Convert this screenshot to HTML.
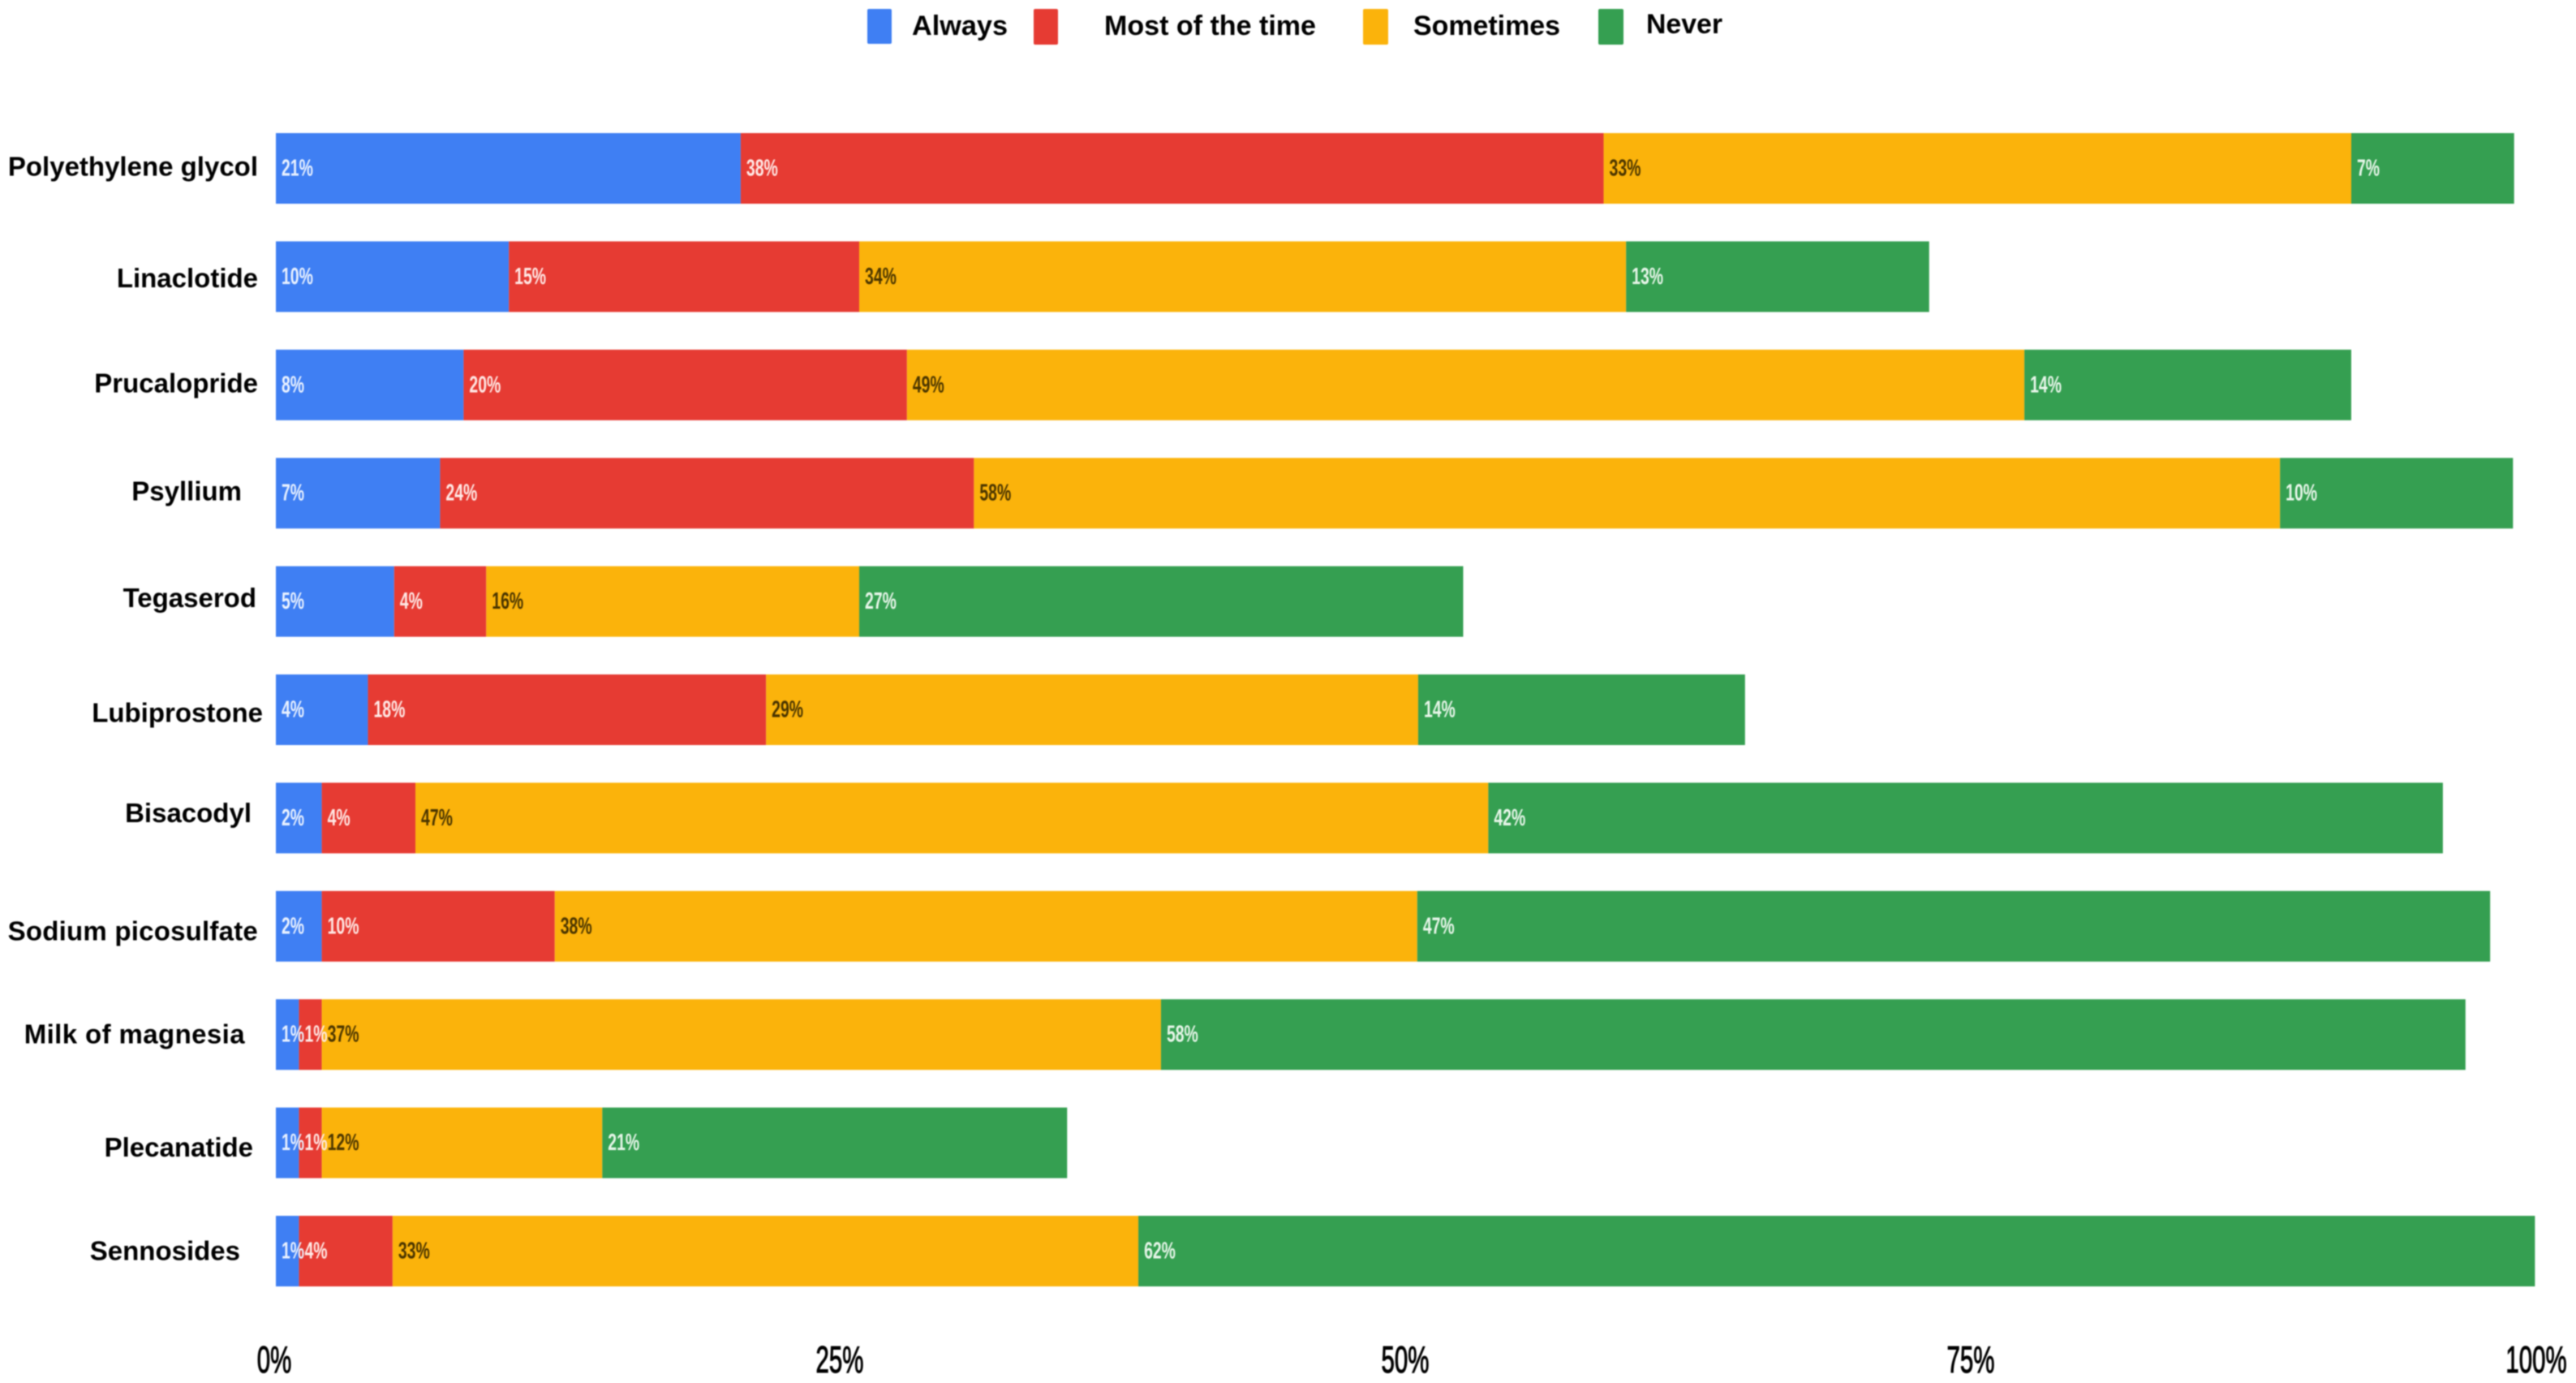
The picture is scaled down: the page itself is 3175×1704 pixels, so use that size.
<!DOCTYPE html>
<html lang="en">
<head>
<meta charset="utf-8">
<title>Laxative response stacked bar chart</title>
<style>
  html, body { margin: 0; padding: 0; background: #fff; }
  #chart { display: block; width: 3175px; height: 1704px; }
  text { font-family: "Liberation Sans", sans-serif; }
  .soft { filter: blur(0.7px); }
</style>
</head>
<body>
<svg id="chart" xmlns="http://www.w3.org/2000/svg" width="3175" height="1704" viewBox="0 0 3175 1704">
  <rect x="0" y="0" width="3175" height="1704" fill="#ffffff"/>
  <g id="legend" class="soft" font-weight="700" font-size="34" fill="#000">
    <rect x="1069" y="11" width="30" height="43" rx="2" fill="#3f7ff3"/>
    <text x="1124" y="43" textLength="118" lengthAdjust="spacingAndGlyphs">Always</text>
    <rect x="1274" y="11" width="30" height="44" rx="2" fill="#e63b33"/>
    <text x="1361" y="43" textLength="261" lengthAdjust="spacingAndGlyphs">Most of the time</text>
    <rect x="1680" y="11" width="31" height="44" rx="2" fill="#fbb30b"/>
    <text x="1742" y="43" textLength="181" lengthAdjust="spacingAndGlyphs">Sometimes</text>
    <rect x="1970" y="11" width="31" height="44" rx="2" fill="#359f51"/>
    <text x="2029" y="41" textLength="94" lengthAdjust="spacingAndGlyphs">Never</text>
  </g>
  <g id="bars" class="soft"></g>
  <g id="value-labels" class="soft"></g>
  <g id="category-labels" class="soft"></g>
  <g id="x-ticks" class="soft"></g>
</svg>
<script>
const categories = ["Polyethylene glycol", "Linaclotide", "Prucalopride", "Psyllium", "Tegaserod", "Lubiprostone", "Bisacodyl", "Sodium picosulfate", "Milk of magnesia", "Plecanatide", "Sennosides"];
const always    = [20.55, 10.3, 8.3, 7.26, 5.23, 4.07, 2.03, 2.03, 1.02, 1.02, 1.02];
const mostTime  = [38.15, 15.49, 19.6, 23.6, 4.07, 17.6, 4.14, 10.3, 1.01, 1.01, 4.14];
const sometimes = [33.05, 33.9, 49.4, 57.74, 16.49, 28.83, 47.43, 38.13, 37.1, 12.4, 32.97];
const never     = [7.2, 13.4, 14.45, 10.3, 26.7, 14.45, 42.2, 47.43, 57.67, 20.55, 61.74];
const xTickValues = [0, 25, 50, 75, 100];
const xTickLabels = ["0%", "25%", "50%", "75%", "100%"];
const seriesNames = ["always", "most-of-the-time", "sometimes", "never"];
const seriesValues = [always, mostTime, sometimes, never];

const SVG_NS = "http://www.w3.org/2000/svg";
const seriesColors = ["#3f7ff3", "#e63b33", "#fbb30b", "#359f51"];
const seriesTextColors = ["#eaf2ff", "#ffe9e6", "#4a3500", "#e8f6ea"];
const labelRightEdges = [318, 318, 318, 298, 316, 324, 310, 318, 302, 312, 296];
const labelNudgeY = [-2, 2, -2, -2, -4, 4, -6, 6, 0, 6, 0];
const labelSpacing = [0, 0, 0, 0, 0, 0, 0, 0.22, 0.4, 0, 0];

const plotLeft = 340, plotRight = 3128;
const firstBarTop = 164, lastBarTop = 1498, barHeight = 87;

function xScale(v) { return plotLeft + (plotRight - plotLeft) * v / 100; }
function yScale(i) { return firstBarTop + (lastBarTop - firstBarTop) * i / (categories.length - 1); }

const barsG = document.getElementById("bars");
const valuesG = document.getElementById("value-labels");
const catsG = document.getElementById("category-labels");
const ticksG = document.getElementById("x-ticks");

categories.forEach(function (cat, i) {
  const top = yScale(i);
  const slug = cat.toLowerCase().replace(/\s+/g, "-");
  let running = 0;

  seriesValues.forEach(function (vals, s) {
    const v = vals[i];
    const x0 = xScale(running);
    const x1 = xScale(running + v);
    running += v;

    const r = document.createElementNS(SVG_NS, "rect");
    r.setAttribute("x", x0);
    r.setAttribute("y", top);
    r.setAttribute("width", x1 - x0);
    r.setAttribute("height", barHeight);
    r.setAttribute("fill", seriesColors[s]);
    
    
    barsG.appendChild(r);

    const g = document.createElementNS(SVG_NS, "g");
    g.setAttribute("transform", "translate(" + (x0 + 7) + " " + (top + barHeight / 2 + 9) + ") scale(0.67 1)");
    const t = document.createElementNS(SVG_NS, "text");
    t.setAttribute("font-size", "29");
    t.setAttribute("font-weight", "700");
    t.setAttribute("fill", seriesTextColors[s]);
    t.textContent = Math.round(v) + "%";
    
    
    g.appendChild(t);
    valuesG.appendChild(g);
  });

  const label = document.createElementNS(SVG_NS, "text");
  label.setAttribute("x", labelRightEdges[i]);
  label.setAttribute("y", top + barHeight / 2 + 11 + labelNudgeY[i]);
  label.setAttribute("text-anchor", "end");
  label.setAttribute("font-size", "33");
  label.setAttribute("font-weight", "700");
  label.setAttribute("letter-spacing", labelSpacing[i]);
  label.setAttribute("fill", "#000");
  label.textContent = cat;
  
  
  catsG.appendChild(label);
});

xTickValues.forEach(function (v, i) {
  const g = document.createElementNS(SVG_NS, "g");
  g.setAttribute("transform", "translate(" + (xScale(v) - 2) + " 1691) scale(0.64 1)");
  const t = document.createElementNS(SVG_NS, "text");
  t.setAttribute("text-anchor", "middle");
  t.setAttribute("font-size", "46");
  t.setAttribute("fill", "#000");
  t.setAttribute("stroke", "#000");
  t.setAttribute("stroke-width", "1.1");
  t.textContent = xTickLabels[i];
  
  
  g.appendChild(t);
  ticksG.appendChild(g);
});
</script>
</body>
</html>
